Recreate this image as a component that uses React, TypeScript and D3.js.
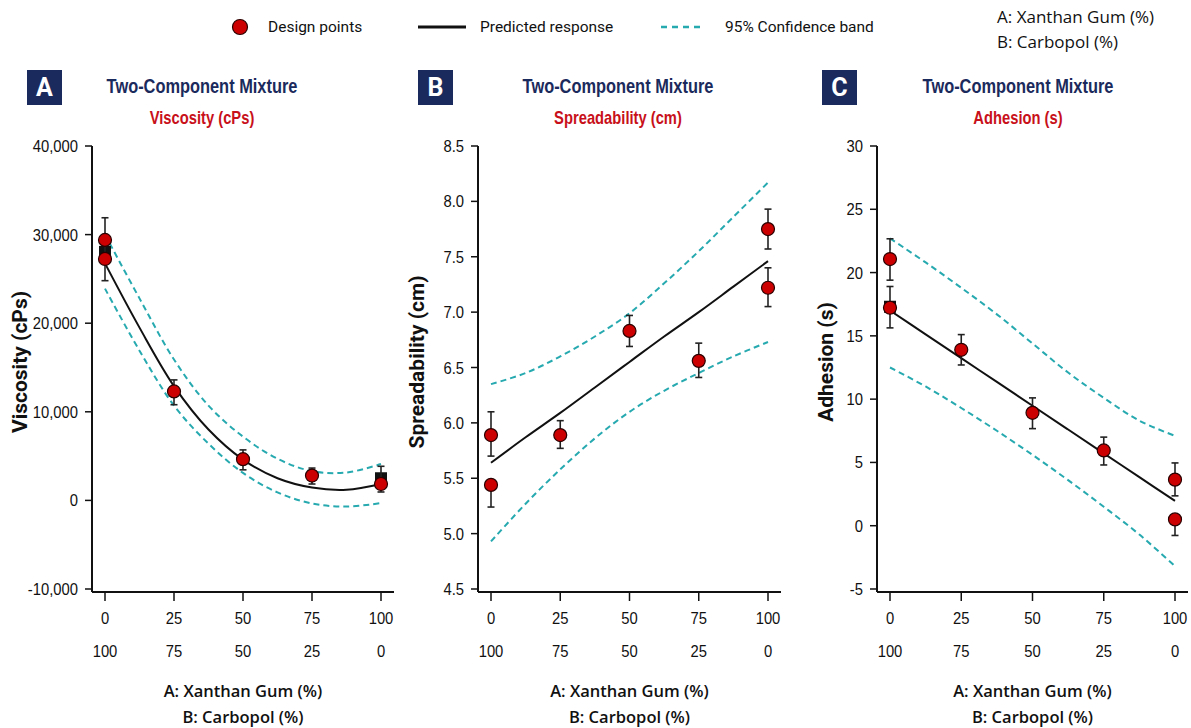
import React from 'react'
import * as d3 from 'd3'

// mixture axes
const xanthan = [0, 25, 50, 75, 100]
const carbopol = [100, 75, 50, 25, 0]
const fitX = [0, 12.5, 25, 37.5, 50, 62.5, 75, 87.5, 100]

// A: viscosity (cPs)
const viscTicks = [-10000, 0, 10000, 20000, 30000, 40000]
const viscX = [0, 0, 25, 50, 75, 100]
const viscY = [29400, 27250, 12300, 4650, 2800, 1850]
const viscLo = [29400, 24800, 10800, 3450, 1850, 950]
const viscHi = [31900, 29400, 13600, 5700, 3650, 3850]
const viscSqX = [0, 100]
const viscSqY = [28050, 2500]
const viscFit = [26750, 19500, 12900, 8000, 4600, 2500, 1450, 1200, 1850]
const viscUp = [30000, 22800, 15900, 10700, 7200, 4700, 3300, 3150, 4100]
const viscDn = [23900, 16900, 10700, 6400, 3100, 900, -350, -700, -300]

// B: spreadability (cm)
const sprTicks = [4.5, 5.0, 5.5, 6.0, 6.5, 7.0, 7.5, 8.0, 8.5]
const sprX = [0, 0, 25, 50, 75, 100, 100]
const sprY = [5.89, 5.44, 5.89, 6.83, 6.56, 7.75, 7.22]
const sprLo = [5.70, 5.24, 5.77, 6.69, 6.41, 7.57, 7.05]
const sprHi = [6.10, 5.44, 6.02, 6.97, 6.72, 7.93, 7.40]
const sprFit = [5.64, 5.87, 6.09, 6.32, 6.55, 6.78, 7.00, 7.23, 7.46]
const sprUp = [6.35, 6.45, 6.60, 6.78, 6.99, 7.26, 7.55, 7.86, 8.17]
const sprDn = [4.93, 5.27, 5.58, 5.86, 6.10, 6.29, 6.45, 6.60, 6.73]

// C: adhesion (s)
const adhTicks = [-5, 0, 5, 10, 15, 20, 25, 30]
const adhX = [0, 0, 25, 50, 75, 100, 100]
const adhY = [21.07, 17.22, 13.9, 8.92, 5.95, 3.64, 0.5]
const adhLo = [19.4, 15.63, 12.7, 7.67, 4.8, 2.36, -0.77]
const adhHi = [22.67, 18.9, 15.1, 10.1, 7.0, 4.96, 0.5]
const adhSqX = [0]
const adhSqY = [17.3]
const adhFit = [17.0, 15.12, 13.24, 11.36, 9.48, 7.6, 5.72, 3.84, 1.96]
const adhUp = [22.7, 20.8, 18.8, 16.7, 14.4, 12.1, 10.1, 8.3, 7.1]
const adhDn = [12.5, 11.0, 9.3, 7.5, 5.6, 3.6, 1.5, -0.7, -3.2]

const NAVY = '#1b2a5c'
const RED = '#c8101a'
const TEAL = '#27a9b0'
const ARIAL = '"Liberation Sans", Arial, sans-serif'
const ROBOTO = 'Roboto, "Liberation Sans", sans-serif'
const OPEN = '"Open Sans", Roboto, sans-serif'

const fmt = (f) => (v) => f(v).replace('\u2212', '-')

// condensed text: Liberation Sans squeezed horizontally
function NText({ x, y, anchor = 'start', fill = '#111', font, sx = 0.82, children }) {
  return (
    <text transform={`translate(${x},${y}) scale(${sx},1)`} textAnchor={anchor} fill={fill}
      style={{ font }}>{children}</text>
  )
}

function Panel(props) {
  const p = props
  const x = d3.scaleLinear().domain([0, 100]).range([p.x0, p.x1])
  const y = d3.scaleLinear().domain([p.ticks[0], p.ticks[p.ticks.length - 1]]).range([589, 146])
  const baseY = 592
  const mk = (arr) =>
    d3.line().x((d, i) => x(fitX[i])).y((d) => y(d)).curve(d3.curveCatmullRom)(arr)
  const midX = (p.x0 + p.x1) / 2

  return (
    <g>
      {/* header */}
      <rect x={p.badgeX} y={70} width={35} height={35} fill={NAVY} />
      <text x={p.badgeX + 17.5} y={96} textAnchor="middle" fill="#fff"
        style={{ font: `bold 25px ${ROBOTO}` }}>{p.letter}</text>
      <NText x={p.titleX} y={93} anchor="middle" fill={NAVY}
        font={`bold 20px ${ARIAL}`}>Two-Component Mixture</NText>
      <NText x={p.titleX} y={124} anchor="middle" fill={RED}
        font={`bold 18px ${ARIAL}`}>{p.subtitle}</NText>

      {/* axes */}
      <line x1={p.axisX} x2={p.axisX} y1={146} y2={baseY} stroke="#111" strokeWidth={2} />
      <line x1={p.axisX} x2={p.x1 + 13} y1={baseY} y2={baseY} stroke="#111" strokeWidth={2} />
      {p.ticks.map((t) => (
        <g key={'y' + t}>
          <line x1={p.axisX - 7} x2={p.axisX} y1={y(t)} y2={y(t)} stroke="#111" strokeWidth={1.5} />
          <NText x={p.axisX - 14} y={y(t) + 6} anchor="end" sx={0.87} font={`17px ${ARIAL}`}>{p.fmt(t)}</NText>
        </g>
      ))}
      {xanthan.map((t, i) => (
        <g key={'x' + t}>
          <line x1={x(t)} x2={x(t)} y1={baseY} y2={baseY + 9} stroke="#111" strokeWidth={1.5} />
          <NText x={x(t)} y={624} anchor="middle" sx={0.87} font={`17px ${ARIAL}`}>{t}</NText>
          <NText x={x(t)} y={657} anchor="middle" sx={0.87} font={`17px ${ARIAL}`}>{carbopol[i]}</NText>
        </g>
      ))}
      <text x={midX} y={697} textAnchor="middle" fill="#111"
        style={{ font: `600 16.5px ${OPEN}` }}>A: Xanthan Gum (%)</text>
      <text x={midX} y={723} textAnchor="middle" fill="#111"
        style={{ font: `600 16.5px ${OPEN}` }}>B: Carbopol (%)</text>
      <text transform={`translate(${p.ylabelX},362) rotate(-90)`} textAnchor="middle" fill="#111"
        style={{ font: `bold 21px ${ROBOTO}` }}>{p.ylabel}</text>

      {/* bands and fit */}
      <path d={mk(p.up)} fill="none" stroke={TEAL} strokeWidth={2} strokeDasharray="6,4" />
      <path d={mk(p.dn)} fill="none" stroke={TEAL} strokeWidth={2} strokeDasharray="6,4" />
      <path d={mk(p.fit)} fill="none" stroke="#111" strokeWidth={2} />

      {/* predicted markers */}
      {p.sqX.map((v, i) => (
        <rect key={'s' + i} x={x(v) - 6} y={y(p.sqY[i]) - 6} width={12} height={12} fill="#111" />
      ))}

      {/* error bars */}
      {p.px.map((v, i) => (
        <g key={'e' + i} stroke="#222" strokeWidth={1.6}>
          <line x1={x(v)} x2={x(v)} y1={y(p.lo[i])} y2={y(p.hi[i])} />
          <line x1={x(v) - 3.5} x2={x(v) + 3.5} y1={y(p.lo[i])} y2={y(p.lo[i])} />
          <line x1={x(v) - 3.5} x2={x(v) + 3.5} y1={y(p.hi[i])} y2={y(p.hi[i])} />
        </g>
      ))}
      {p.px.map((v, i) => (
        <circle key={'c' + i} cx={x(v)} cy={y(p.py[i])} r={6.5} fill="#cc0000" stroke="#2a0000" strokeWidth={1.2} />
      ))}
    </g>
  )
}

export default function App() {
  return (
    <svg width={1191} height={728} style={{ position: 'absolute', left: 0, top: 0, background: '#fff' }}>
      {/* legend */}
      <circle cx={240} cy={27} r={7.5} fill="#cc0000" stroke="#2a0000" strokeWidth={1.2} />
      <text x={268} y={32} fill="#111" style={{ font: `15.5px ${ROBOTO}` }}>Design points</text>
      <line x1={418} x2={466} y1={27} y2={27} stroke="#111" strokeWidth={3} />
      <text x={480} y={32} fill="#111" style={{ font: `15.5px ${ROBOTO}` }}>Predicted response</text>
      <line x1={661} x2={700} y1={27} y2={27} stroke={TEAL} strokeWidth={2.5} strokeDasharray="6,5" />
      <text x={725} y={32} fill="#111" style={{ font: `15.5px ${ROBOTO}` }}>95% Confidence band</text>
      <text x={997} y={23} fill="#111" style={{ font: `500 17px ${OPEN}` }}>A:  Xanthan Gum (%)</text>
      <text x={997} y={48} fill="#111" style={{ font: `500 17px ${OPEN}` }}>B:  Carbopol (%)</text>

      <Panel letter="A" badgeX={27} titleX={202} subtitle="Viscosity (cPs)" ylabel="Viscosity (cPs)"
        ylabelX={27} axisX={92} x0={105} x1={381} ticks={viscTicks} fmt={fmt(d3.format(','))}
        px={viscX} py={viscY} lo={viscLo} hi={viscHi} sqX={viscSqX} sqY={viscSqY}
        fit={viscFit} up={viscUp} dn={viscDn} />
      <Panel letter="B" badgeX={418} titleX={618} subtitle="Spreadability (cm)" ylabel="Spreadability (cm)"
        ylabelX={424} axisX={478} x0={491} x1={768} ticks={sprTicks} fmt={fmt(d3.format('.1f'))}
        px={sprX} py={sprY} lo={sprLo} hi={sprHi} sqX={[]} sqY={[]}
        fit={sprFit} up={sprUp} dn={sprDn} />
      <Panel letter="C" badgeX={822} titleX={1018} subtitle="Adhesion (s)" ylabel="Adhesion (s)"
        ylabelX={833} axisX={877} x0={890} x1={1175} ticks={adhTicks} fmt={fmt(d3.format('d'))}
        px={adhX} py={adhY} lo={adhLo} hi={adhHi} sqX={adhSqX} sqY={adhSqY}
        fit={adhFit} up={adhUp} dn={adhDn} />
    </svg>
  )
}
